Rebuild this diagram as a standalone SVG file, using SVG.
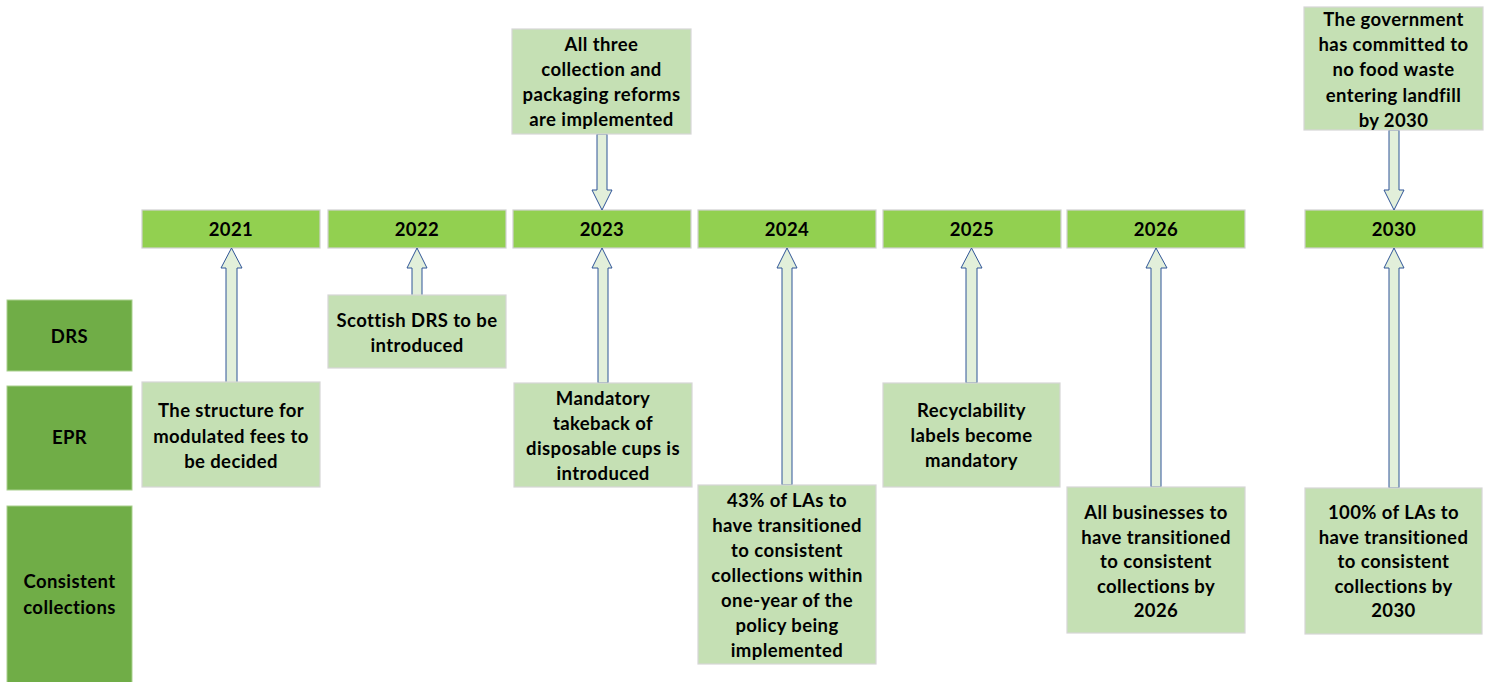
<svg xmlns="http://www.w3.org/2000/svg" width="1491" height="682" viewBox="0 0 1491 682">
  <style>
    .cat { fill: #70AD47; stroke: #A9D08E; stroke-width: 1; }
    .year { fill: #92D050; stroke: #D0D0D0; stroke-width: 1.2; }
    .note { fill: #C5E0B4; stroke: #D6D6D6; stroke-width: 1.2; }
    .arrow { fill: #E2EFDA; stroke: #2F5597; stroke-width: 1; stroke-linejoin: miter; }
    text { font-family: Lato, "Liberation Sans", sans-serif; font-weight: bold; font-size: 18.5px; letter-spacing: 0.4px; fill: #000; text-anchor: middle; dominant-baseline: central; }
  </style>

  <rect width="1491" height="682" fill="#FFFFFF"/>

  <!-- category labels on the left -->
  <g id="cat-drs">
    <rect class="cat" x="7" y="300" width="125" height="71"/>
    <text x="69.5" y="336">DRS</text>
  </g>
  <g id="cat-epr">
    <rect class="cat" x="7" y="386" width="125" height="104"/>
    <text x="69.5" y="437">EPR</text>
  </g>
  <g id="cat-cc">
    <rect class="cat" x="7" y="506" width="125" height="190"/>
    <text x="69.5" y="581">Consistent</text>
    <text x="69.5" y="607">collections</text>
  </g>

  <!-- timeline years -->
  <g id="y2021"><rect class="year" x="142" y="210" width="178" height="38"/><text x="231" y="229">2021</text></g>
  <g id="y2022"><rect class="year" x="328" y="210" width="178" height="38"/><text x="417" y="229">2022</text></g>
  <g id="y2023"><rect class="year" x="513" y="210" width="178" height="38"/><text x="602" y="229">2023</text></g>
  <g id="y2024"><rect class="year" x="698" y="210" width="178" height="38"/><text x="787" y="229">2024</text></g>
  <g id="y2025"><rect class="year" x="883" y="210" width="178" height="38"/><text x="972" y="229">2025</text></g>
  <g id="y2026"><rect class="year" x="1067" y="210" width="178" height="38"/><text x="1156" y="229">2026</text></g>
  <g id="y2030"><rect class="year" x="1305" y="210" width="178" height="38"/><text x="1394" y="229">2030</text></g>

  <!-- block arrows linking events to years -->
  <g id="connectors">
    <polygon class="arrow" points="226,383 237,383 237,268 242,268 231.5,248 221,268 226,268"/>
    <polygon class="arrow" points="412,296 422,296 422,268 427,268 417,248 407,268 412,268"/>
    <polygon class="arrow" points="598,383 608,383 608,268 612,268 602,248 592,268 598,268"/>
    <polygon class="arrow" points="782,485 792,485 792,268 797,268 787,248 777,268 782,268"/>
    <polygon class="arrow" points="966,383 977,383 977,268 982,268 971.5,248 961,268 966,268"/>
    <polygon class="arrow" points="1151,487 1161,487 1161,268 1167,268 1156,248 1146,268 1151,268"/>
    <polygon class="arrow" points="1389,488 1399,488 1399,268 1404,268 1394,248 1384,268 1389,268"/>
    <polygon class="arrow" points="597,134 607,134 607,190 612,190 602,210 592,190 597,190"/>
    <polygon class="arrow" points="1389,130 1399,130 1399,190 1404,190 1394,210 1384,190 1389,190"/>
  </g>

  <!-- event notes -->
  <g id="n2021-epr">
    <rect class="note" x="142" y="382" width="178" height="105"/>
    <text x="231" y="410">The structure for</text>
    <text x="231" y="435.5">modulated fees to</text>
    <text x="231" y="461">be decided</text>
  </g>
  <g id="n2022-drs">
    <rect class="note" x="328" y="295" width="178" height="73"/>
    <text x="417" y="320">Scottish DRS to be</text>
    <text x="417" y="345">introduced</text>
  </g>
  <g id="n2023-all">
    <rect class="note" x="512" y="29" width="179" height="105"/>
    <text x="601.5" y="44">All three</text>
    <text x="601.5" y="69">collection and</text>
    <text x="601.5" y="94">packaging reforms</text>
    <text x="601.5" y="119">are implemented</text>
  </g>
  <g id="n2023-epr">
    <rect class="note" x="514" y="383" width="178" height="104"/>
    <text x="603" y="398">Mandatory</text>
    <text x="603" y="423">takeback of</text>
    <text x="603" y="448">disposable cups is</text>
    <text x="603" y="473">introduced</text>
  </g>
  <g id="n2024-cc">
    <rect class="note" x="698" y="485" width="178" height="179"/>
    <text x="787" y="500">43% of LAs to</text>
    <text x="787" y="525">have transitioned</text>
    <text x="787" y="550">to consistent</text>
    <text x="787" y="575">collections within</text>
    <text x="787" y="600">one-year of the</text>
    <text x="787" y="625">policy being</text>
    <text x="787" y="650">implemented</text>
  </g>
  <g id="n2025-epr">
    <rect class="note" x="883" y="383" width="177" height="104"/>
    <text x="971.5" y="410">Recyclability</text>
    <text x="971.5" y="435">labels become</text>
    <text x="971.5" y="460">mandatory</text>
  </g>
  <g id="n2026-cc">
    <rect class="note" x="1067" y="487" width="178" height="146"/>
    <text x="1156" y="512">All businesses to</text>
    <text x="1156" y="536.5">have transitioned</text>
    <text x="1156" y="561">to consistent</text>
    <text x="1156" y="585.5">collections by</text>
    <text x="1156" y="610">2026</text>
  </g>
  <g id="n2030-food">
    <rect class="note" x="1304" y="7" width="179" height="123"/>
    <text x="1393.5" y="18.5">The government</text>
    <text x="1393.5" y="44">has committed to</text>
    <text x="1393.5" y="69">no food waste</text>
    <text x="1393.5" y="94.5">entering landfill</text>
    <text x="1393.5" y="120">by 2030</text>
  </g>
  <g id="n2030-cc">
    <rect class="note" x="1305" y="488" width="177" height="146"/>
    <text x="1393.5" y="512">100% of LAs to</text>
    <text x="1393.5" y="536.5">have transitioned</text>
    <text x="1393.5" y="561">to consistent</text>
    <text x="1393.5" y="585.5">collections by</text>
    <text x="1393.5" y="610">2030</text>
  </g>
</svg>
